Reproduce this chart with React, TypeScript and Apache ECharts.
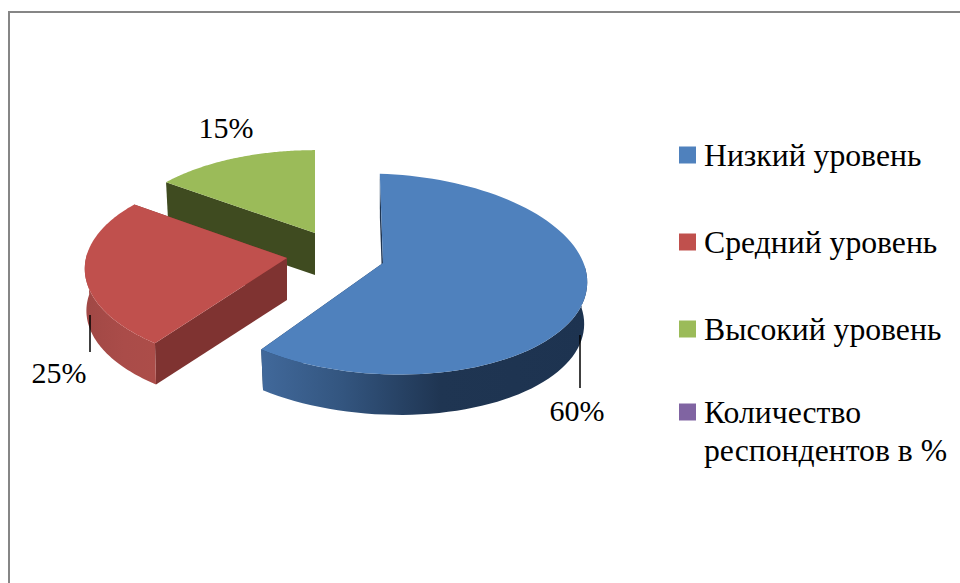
import React, { useEffect, useRef } from "react";
import * as echarts from "echarts";

const categories = ["Низкий уровень", "Средний уровень", "Высокий уровень", "Количество респондентов в %"];
const values = [60, 25, 15, 0];
const topColors = ["#4f81bd", "#c0504d", "#9bbb59", "#8064a2"];
const SERIF = '"Liberation Serif", "Times New Roman", serif';
const LABEL_FONT = `30px ${SERIF}`;
const LEGEND_SIZE = 31.7;
const LEGEND_FONT = `${LEGEND_SIZE}px ${SERIF}`;

const P = 0.11, DEPTH = 42;

// layout only: where each exploded slice sits, and its label
const layouts: any[] = [
  { cx: 383, cy: 263, b: 203, a: 99, shear: 0.04, shrink: 0.985, a0: -1, a1: -3, wall: "#1f3552",
    rim: ["#41699b", "#33557f", "#1f3552", "#1d3350"],
    label: [577, 410], leader: [580, 335, 580, 388] },
  { cx: 287, cy: 258, b: 201, a: 97, shear: 0, shrink: 0.992, a0: 0.8, a1: 0, wall: "#7f3331",
    rim: ["#a04845", "#a54a47", "#aa4c49", "#ac4d49"],
    label: [59, 372], leader: [90, 315, 90, 352] },
  { cx: 315, cy: 233, b: 196, a: 92, shear: 0, shrink: 0.985, a0: 0, a1: 0, wall: "#3f4b20",
    rim: ["#3f4b20", "#3f4b20", "#3f4b20", "#3f4b20"],
    label: [226, 127], leader: null },
  { cx: 0, cy: 0, b: 0, a: 0, shear: 0, shrink: 1, a0: 0, a1: 0, wall: "#000", rim: [], label: null, leader: null },
];

const total = values.reduce((s, v) => s + v, 0);

function project(l: any, deg: number) {
  const r = (deg * Math.PI) / 180;
  const u = Math.sin(r), v = Math.cos(r);
  const d = 1 + P * v;
  const dx = (l.b * u) / d;
  return [l.cx + dx, l.cy - (l.a * v) / d + l.shear * dx];
}
function lower(l: any, p: number[]) {
  return [l.cx + (p[0] - l.cx) * l.shrink, l.cy + (p[1] - l.cy) * l.shrink + DEPTH];
}

function makeRender(idx: number) {
  return (_params: any, api: any) => {
    const value = api.value(0);
    if (!value) return { type: "group", children: [] };
    const l = layouts[idx];
    const before = values.slice(0, idx).reduce((s, v) => s + v, 0);
    const start = (before / total) * 360 + l.a0;
    const end = ((before + value) / total) * 360 + l.a1;
    const arc: number[][] = [];
    const rimArc: number[][] = [];
    for (let i = 0; i <= 90; i++) {
      const t = start + ((end - start) * i) / 90;
      const p = project(l, t);
      arc.push(p);
      if (Math.cos((t * Math.PI) / 180) <= 0.06) rimArc.push(p);
    }
    const apex = [l.cx, l.cy];
    const low = lower(l, apex);
    const children: any[] = [];
    const wall = (p: number[]) => ({
      type: "polygon",
      shape: { points: [apex, p, lower(l, p), low] },
      style: { fill: l.wall },
    });
    children.push(wall(arc[arc.length - 1]));
    children.push(wall(arc[0]));
    if (rimArc.length > 1) {
      children.push({
        type: "polygon",
        shape: { points: [...rimArc, ...rimArc.slice().reverse().map((p) => lower(l, p))] },
        style: {
          fill: new echarts.graphic.LinearGradient(0, 0, 1, 0, [
            { offset: 0, color: l.rim[0] },
            { offset: 0.25, color: l.rim[1] },
            { offset: 0.55, color: l.rim[2] },
            { offset: 1, color: l.rim[3] },
          ]),
        },
      });
    }
    children.push({
      type: "polygon",
      shape: { points: [apex, ...arc] },
      style: { fill: topColors[idx] },
    });
    if (l.leader) {
      const [x1, y1, x2, y2] = l.leader;
      children.push({
        type: "line",
        shape: { x1, y1, x2, y2 },
        style: { stroke: "#000", lineWidth: 1.5 },
      });
    }
    children.push({
      type: "text",
      style: {
        x: l.label[0], y: l.label[1], text: `${value}%`, font: LABEL_FONT, fill: "#000",
        textAlign: "center", textVerticalAlign: "middle",
      },
    });
    return { type: "group", children };
  };
}

const legendBase = {
  orient: "vertical",
  left: 679,
  padding: 0,
  itemWidth: 17,
  itemHeight: 17,
  itemGap: 51,
  icon: "rect",
  selectedMode: false,
  textStyle: {
    fontFamily: SERIF,
    fontSize: LEGEND_SIZE,
    lineHeight: 32,
    color: "#000",
    padding: [4, 0, 0, 3],
  },
};

export default function App() {
  const ref = useRef<HTMLDivElement>(null);
  useEffect(() => {
    const chart = echarts.init(ref.current!, null, { renderer: "svg" });
    chart.setOption({
      animation: false,
      backgroundColor: "#fff",
      color: topColors,
      legend: [
        {
          ...legendBase,
          top: 137,
          data: categories.slice(0, 3).map((name, i) => ({ name, itemStyle: { color: topColors[i] } })),
        },
        {
          ...legendBase,
          top: 394,
          data: [{ name: categories[3], itemStyle: { color: topColors[3] } }],
          formatter: () => "Количество",
        },
      ],
      graphic: [
        { type: "line", silent: true, shape: { x1: 8, y1: 12, x2: 960, y2: 12 }, style: { stroke: "#868686", lineWidth: 2 } },
        { type: "line", silent: true, shape: { x1: 9, y1: 12, x2: 9, y2: 583 }, style: { stroke: "#868686", lineWidth: 2 } },
        { type: "text", silent: true, left: 704, top: 434, style: { text: "респондентов в %", font: LEGEND_FONT, fill: "#000" } },
      ],
      series: [2, 1, 0, 3].map((i) => ({
        type: "custom",
        name: categories[i],
        coordinateSystem: "none",
        silent: true,
        clip: false,
        itemStyle: { color: topColors[i] },
        renderItem: makeRender(i),
        data: [[values[i]]],
      })),
    });
    return () => chart.dispose();
  }, []);
  return <div ref={ref} style={{ position: "fixed", left: 0, top: 0, width: 960, height: 583 }} />;
}
